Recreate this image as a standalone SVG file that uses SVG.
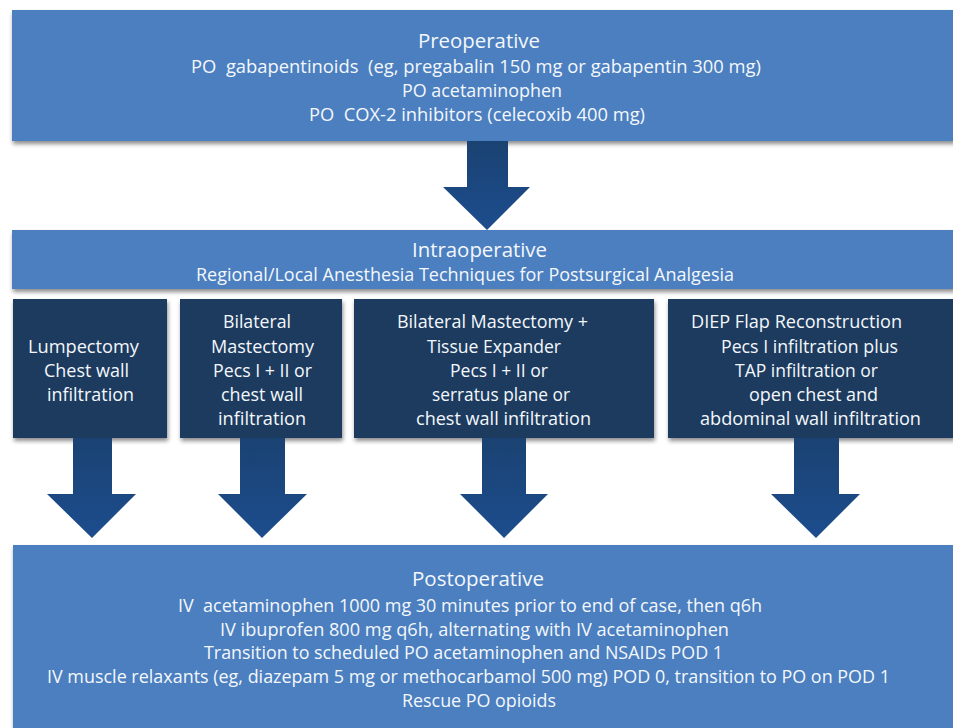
<svg xmlns="http://www.w3.org/2000/svg" width="953" height="728" viewBox="0 0 953 728">
<defs>
<filter id="sh" x="-5%" y="-10%" width="110%" height="130%">
<feDropShadow dx="1" dy="3" stdDeviation="2" flood-color="#000" flood-opacity="0.45"/>
</filter>
<linearGradient id="ag" x1="0" y1="0" x2="0" y2="1">
<stop offset="0" stop-color="#1a4272"/>
<stop offset="1" stop-color="#1d4d8e"/>
</linearGradient>
<style>
.light{fill:#4b7fc0;filter:url(#sh)}
.dark{fill:#1f3a5f;filter:url(#sh)}
.arrow{fill:url(#ag)}
text{font-family:"Open Sans","Noto Sans","Liberation Sans",sans-serif;fill:#f4f7fb;white-space:pre}
.t{font-size:20px}
.b{font-size:18px}
</style>
</defs>
<rect width="953" height="728" fill="#ffffff"/>
<g id="preoperative">
<rect class="light" x="12" y="10" width="943" height="131"/>
<text class="t" x="418" y="48" textLength="122" lengthAdjust="spacingAndGlyphs">Preoperative</text>
<text class="b" x="191" y="73" textLength="570" lengthAdjust="spacingAndGlyphs">PO  gabapentinoids  (eg, pregabalin 150 mg or gabapentin 300 mg)</text>
<text class="b" x="402" y="97" textLength="160" lengthAdjust="spacingAndGlyphs">PO acetaminophen</text>
<text class="b" x="309" y="121" textLength="336" lengthAdjust="spacingAndGlyphs">PO  COX-2 inhibitors (celecoxib 400 mg)</text>
</g>
<g id="intraoperative">
<rect class="light" x="12" y="230" width="943" height="59"/>
<text class="t" x="412" y="257" textLength="135" lengthAdjust="spacingAndGlyphs">Intraoperative</text>
<text class="b" x="196" y="281" textLength="538" lengthAdjust="spacingAndGlyphs">Regional/Local Anesthesia Techniques for Postsurgical Analgesia</text>
</g>
<g id="lumpectomy">
<rect class="dark" x="13" y="299" width="154" height="139"/>
<text class="b" x="28" y="353" textLength="111" lengthAdjust="spacingAndGlyphs">Lumpectomy</text>
<text class="b" x="44" y="377" textLength="85" lengthAdjust="spacingAndGlyphs">Chest wall</text>
<text class="b" x="47" y="401" textLength="87" lengthAdjust="spacingAndGlyphs">infiltration</text>
</g>
<g id="bilateral-mastectomy">
<rect class="dark" x="180" y="299" width="162" height="139"/>
<text class="b" x="223" y="328" textLength="68" lengthAdjust="spacingAndGlyphs">Bilateral</text>
<text class="b" x="211" y="353" textLength="103" lengthAdjust="spacingAndGlyphs">Mastectomy</text>
<text class="b" x="213" y="377" textLength="99" lengthAdjust="spacingAndGlyphs">Pecs I + II or</text>
<text class="b" x="221" y="401" textLength="82" lengthAdjust="spacingAndGlyphs">chest wall</text>
<text class="b" x="218" y="425" textLength="88" lengthAdjust="spacingAndGlyphs">infiltration</text>
</g>
<g id="mastectomy-expander">
<rect class="dark" x="354" y="299" width="300" height="139"/>
<text class="b" x="397" y="328" textLength="191" lengthAdjust="spacingAndGlyphs">Bilateral Mastectomy +</text>
<text class="b" x="427" y="353" textLength="134" lengthAdjust="spacingAndGlyphs">Tissue Expander</text>
<text class="b" x="450" y="377" textLength="98" lengthAdjust="spacingAndGlyphs">Pecs I + II or</text>
<text class="b" x="432" y="401" textLength="138" lengthAdjust="spacingAndGlyphs">serratus plane or</text>
<text class="b" x="416" y="425" textLength="175" lengthAdjust="spacingAndGlyphs">chest wall infiltration</text>
</g>
<g id="diep-flap">
<rect class="dark" x="668" y="299" width="287" height="139"/>
<text class="b" x="691" y="328" textLength="211" lengthAdjust="spacingAndGlyphs">DIEP Flap Reconstruction</text>
<text class="b" x="721" y="353" textLength="177" lengthAdjust="spacingAndGlyphs">Pecs I infiltration plus</text>
<text class="b" x="735" y="377" textLength="143" lengthAdjust="spacingAndGlyphs">TAP infiltration or</text>
<text class="b" x="749" y="401" textLength="129" lengthAdjust="spacingAndGlyphs">open chest and</text>
<text class="b" x="700" y="425" textLength="221" lengthAdjust="spacingAndGlyphs">abdominal wall infiltration</text>
</g>
<g id="postoperative">
<rect class="light" x="13" y="545" width="942" height="190"/>
<text class="t" x="412" y="586" textLength="132" lengthAdjust="spacingAndGlyphs">Postoperative</text>
<text class="b" x="178" y="612" textLength="584" lengthAdjust="spacingAndGlyphs">IV  acetaminophen 1000 mg 30 minutes prior to end of case, then q6h</text>
<text class="b" x="220" y="636" textLength="509" lengthAdjust="spacingAndGlyphs">IV ibuprofen 800 mg q6h, alternating with IV acetaminophen</text>
<text class="b" x="204" y="659" textLength="519" lengthAdjust="spacingAndGlyphs">Transition to scheduled PO acetaminophen and NSAIDs POD 1</text>
<text class="b" x="47" y="683" textLength="843" lengthAdjust="spacingAndGlyphs">IV muscle relaxants (eg, diazepam 5 mg or methocarbamol 500 mg) POD 0, transition to PO on POD 1</text>
<text class="b" x="402" y="707" textLength="154" lengthAdjust="spacingAndGlyphs">Rescue PO opioids</text>
</g>
<g id="connectors">
<polygon class="arrow" points="467,141 508,141 508,187 530,187 487,230 443,187 467,187"/>
<polygon class="arrow" points="73,438 112,438 112,494 136,494 92,538 47,494 73,494"/>
<polygon class="arrow" points="240,438 285,438 285,494 307,494 262,538 218,494 240,494"/>
<polygon class="arrow" points="482,438 526,438 526,494 548,494 504,538 460,494 482,494"/>
<polygon class="arrow" points="794,438 839,438 839,494 860,494 816,538 771,494 794,494"/>
</g>
</svg>
